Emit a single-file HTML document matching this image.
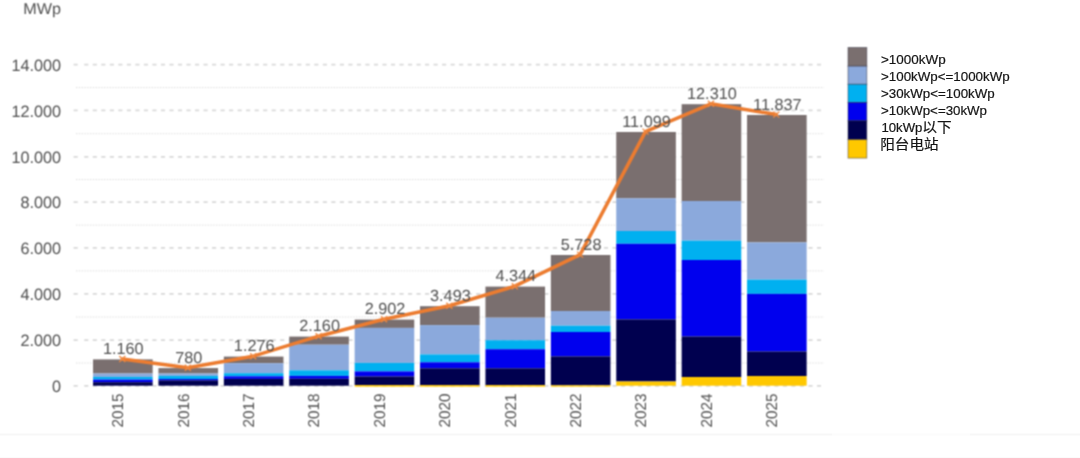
<!DOCTYPE html>
<html><head><meta charset="utf-8"><title>MWp</title>
<style>
html,body{margin:0;padding:0;background:#fff;}
body{width:1080px;height:458px;overflow:hidden;position:relative;font-family:"Liberation Sans","Noto Sans CJK SC",sans-serif;}
svg{position:absolute;left:0;top:0;display:block}
.ax{text-rendering:geometricPrecision;font-family:"Liberation Sans",sans-serif;font-size:16.4px;fill:#505050}
.xl{font-size:15.7px}
.dl{text-rendering:geometricPrecision;font-family:"Liberation Sans",sans-serif;font-size:16.1px;fill:#505050}
.lg{font-family:"Liberation Sans",sans-serif;font-size:13px;fill:#151515;stroke:#151515;stroke-width:0.2px}
.lgc{font-family:"Noto Sans CJK SC","Liberation Sans",sans-serif;font-size:13.7px;fill:#151515;stroke:#151515;stroke-width:0.2px}
#chart{filter:url(#soft)}
</style></head><body>
<svg width="1080" height="458" viewBox="0 0 1080 458">
<rect width="1080" height="458" fill="#ffffff"/>
<line x1="0" x2="832" y1="434.5" y2="434.5" stroke="#f7f7f7" stroke-width="2"/>
<line x1="832" x2="970" y1="434.5" y2="434.5" stroke="#fcfcfc" stroke-width="2"/>
<line x1="970" x2="1080" y1="434.5" y2="434.5" stroke="#f7f7f7" stroke-width="2"/>
<line x1="0" x2="1080" y1="457.5" y2="457.5" stroke="#fbfbfb" stroke-width="1"/>
<defs><filter id="soft" x="0" y="0" width="876" height="458" filterUnits="userSpaceOnUse" color-interpolation-filters="sRGB"><feConvolveMatrix order="3" kernelMatrix="0.0576 0.1248 0.0576 0.1248 0.2704 0.1248 0.0576 0.1248 0.0576" divisor="1" edgeMode="duplicate" preserveAlpha="false"/></filter></defs>
<g id="chart">
<rect x="0" y="0" width="876" height="432.5" fill="#ffffff"/>
<path d="M73.6 385.9h6.5M84.25 385.9H821.6" stroke="#d9d9d9" stroke-width="1.7" stroke-dasharray="4.1 4.42" fill="none"/>
<line x1="76" x2="824" y1="363.0" y2="363.0" stroke="#dcdcdc" stroke-width="1" stroke-dasharray="1.4 1.4"/>
<path d="M73.6 340.2h6.5M84.25 340.2H821.6" stroke="#d9d9d9" stroke-width="1.7" stroke-dasharray="4.1 4.42" fill="none"/>
<line x1="76" x2="824" y1="317.0" y2="317.0" stroke="#dcdcdc" stroke-width="1" stroke-dasharray="1.4 1.4"/>
<path d="M73.6 293.8h6.5M84.25 293.8H821.6" stroke="#d9d9d9" stroke-width="1.7" stroke-dasharray="4.1 4.42" fill="none"/>
<line x1="76" x2="824" y1="270.9" y2="270.9" stroke="#dcdcdc" stroke-width="1" stroke-dasharray="1.4 1.4"/>
<path d="M73.6 247.9h6.5M84.25 247.9H821.6" stroke="#d9d9d9" stroke-width="1.7" stroke-dasharray="4.1 4.42" fill="none"/>
<line x1="76" x2="824" y1="225.1" y2="225.1" stroke="#dcdcdc" stroke-width="1" stroke-dasharray="1.4 1.4"/>
<path d="M73.6 202.2h6.5M84.25 202.2H821.6" stroke="#d9d9d9" stroke-width="1.7" stroke-dasharray="4.1 4.42" fill="none"/>
<line x1="76" x2="824" y1="179.6" y2="179.6" stroke="#dcdcdc" stroke-width="1" stroke-dasharray="1.4 1.4"/>
<path d="M73.6 156.9h6.5M84.25 156.9H821.6" stroke="#d9d9d9" stroke-width="1.7" stroke-dasharray="4.1 4.42" fill="none"/>
<line x1="76" x2="824" y1="133.7" y2="133.7" stroke="#dcdcdc" stroke-width="1" stroke-dasharray="1.4 1.4"/>
<path d="M73.6 110.4h6.5M84.25 110.4H821.6" stroke="#d9d9d9" stroke-width="1.7" stroke-dasharray="4.1 4.42" fill="none"/>
<line x1="76" x2="824" y1="87.6" y2="87.6" stroke="#dcdcdc" stroke-width="1" stroke-dasharray="1.4 1.4"/>
<path d="M73.6 64.7h6.5M84.25 64.7H821.6" stroke="#d9d9d9" stroke-width="1.7" stroke-dasharray="4.1 4.42" fill="none"/>
<text transform="translate(61.1 391.9) scale(0.99 1)" text-anchor="end" class="ax">0</text>
<text transform="translate(61.1 346.2) scale(0.99 1)" text-anchor="end" class="ax">2.000</text>
<text transform="translate(61.1 299.9) scale(0.99 1)" text-anchor="end" class="ax">4.000</text>
<text transform="translate(61.1 254.0) scale(0.99 1)" text-anchor="end" class="ax">6.000</text>
<text transform="translate(61.1 208.2) scale(0.99 1)" text-anchor="end" class="ax">8.000</text>
<text transform="translate(61.1 163.0) scale(0.99 1)" text-anchor="end" class="ax">10.000</text>
<text transform="translate(61.1 116.5) scale(0.99 1)" text-anchor="end" class="ax">12.000</text>
<text transform="translate(61.1 70.8) scale(0.99 1)" text-anchor="end" class="ax">14.000</text>
<text transform="translate(23.2 14.3) scale(1.03 1)" class="ax" style="font-size:15.7px">MWp</text>
<rect x="93.05" y="359.4" width="59.6" height="14.1" fill="#7a6f6f"/>
<rect x="93.05" y="373.5" width="59.6" height="3.4" fill="#8ba9dc"/>
<rect x="93.05" y="376.9" width="59.6" height="2.7" fill="#00b0f0"/>
<rect x="93.05" y="379.6" width="59.6" height="2.6" fill="#0000ee"/>
<rect x="93.05" y="382.2" width="59.6" height="3.5" fill="#00004f"/>
<text transform="translate(123.2,410.4) rotate(-90) scale(0.975 1)" text-anchor="middle" class="ax xl">2015</text>
<rect x="158.45" y="368.1" width="59.6" height="5.4" fill="#7a6f6f"/>
<rect x="158.45" y="373.5" width="59.6" height="2.4" fill="#8ba9dc"/>
<rect x="158.45" y="375.9" width="59.6" height="3.1" fill="#00b0f0"/>
<rect x="158.45" y="379.0" width="59.6" height="1.4" fill="#0000ee"/>
<rect x="158.45" y="380.4" width="59.6" height="5.3" fill="#00004f"/>
<text transform="translate(188.7,410.4) rotate(-90) scale(0.975 1)" text-anchor="middle" class="ax xl">2016</text>
<rect x="223.85" y="356.6" width="59.6" height="6.6" fill="#7a6f6f"/>
<rect x="223.85" y="363.2" width="59.6" height="10.0" fill="#8ba9dc"/>
<rect x="223.85" y="373.2" width="59.6" height="3.1" fill="#00b0f0"/>
<rect x="223.85" y="376.3" width="59.6" height="2.6" fill="#0000ee"/>
<rect x="223.85" y="378.9" width="59.6" height="6.8" fill="#00004f"/>
<text transform="translate(254.1,410.4) rotate(-90) scale(0.975 1)" text-anchor="middle" class="ax xl">2017</text>
<rect x="289.25" y="336.6" width="59.6" height="8.1" fill="#7a6f6f"/>
<rect x="289.25" y="344.7" width="59.6" height="25.6" fill="#8ba9dc"/>
<rect x="289.25" y="370.3" width="59.6" height="5.6" fill="#00b0f0"/>
<rect x="289.25" y="375.9" width="59.6" height="2.9" fill="#0000ee"/>
<rect x="289.25" y="378.8" width="59.6" height="6.9" fill="#00004f"/>
<text transform="translate(319.4,410.4) rotate(-90) scale(0.975 1)" text-anchor="middle" class="ax xl">2018</text>
<rect x="354.65" y="319.6" width="59.6" height="8.3" fill="#7a6f6f"/>
<rect x="354.65" y="327.9" width="59.6" height="35.0" fill="#8ba9dc"/>
<rect x="354.65" y="362.9" width="59.6" height="8.5" fill="#00b0f0"/>
<rect x="354.65" y="371.4" width="59.6" height="5.1" fill="#0000ee"/>
<rect x="354.65" y="376.5" width="59.6" height="8.6" fill="#00004f"/>
<rect x="354.65" y="385.1" width="59.6" height="1.6" fill="#ffc800"/>
<text transform="translate(384.9,410.4) rotate(-90) scale(0.975 1)" text-anchor="middle" class="ax xl">2019</text>
<rect x="420.05" y="306.2" width="59.6" height="18.9" fill="#7a6f6f"/>
<rect x="420.05" y="325.1" width="59.6" height="29.3" fill="#8ba9dc"/>
<rect x="420.05" y="354.4" width="59.6" height="7.9" fill="#00b0f0"/>
<rect x="420.05" y="362.3" width="59.6" height="6.0" fill="#0000ee"/>
<rect x="420.05" y="368.3" width="59.6" height="16.8" fill="#00004f"/>
<rect x="420.05" y="385.1" width="59.6" height="1.6" fill="#ffc800"/>
<text transform="translate(450.2,410.4) rotate(-90) scale(0.975 1)" text-anchor="middle" class="ax xl">2020</text>
<rect x="485.45" y="286.6" width="59.6" height="31.1" fill="#7a6f6f"/>
<rect x="485.45" y="317.7" width="59.6" height="22.5" fill="#8ba9dc"/>
<rect x="485.45" y="340.2" width="59.6" height="9.0" fill="#00b0f0"/>
<rect x="485.45" y="349.2" width="59.6" height="19.1" fill="#0000ee"/>
<rect x="485.45" y="368.3" width="59.6" height="16.8" fill="#00004f"/>
<rect x="485.45" y="385.1" width="59.6" height="1.6" fill="#ffc800"/>
<text transform="translate(515.6,410.4) rotate(-90) scale(0.975 1)" text-anchor="middle" class="ax xl">2021</text>
<rect x="550.85" y="255.0" width="59.6" height="56.0" fill="#7a6f6f"/>
<rect x="550.85" y="311.0" width="59.6" height="14.7" fill="#8ba9dc"/>
<rect x="550.85" y="325.7" width="59.6" height="6.3" fill="#00b0f0"/>
<rect x="550.85" y="332.0" width="59.6" height="24.4" fill="#0000ee"/>
<rect x="550.85" y="356.4" width="59.6" height="28.9" fill="#00004f"/>
<rect x="550.85" y="385.3" width="59.6" height="1.4" fill="#ffc800"/>
<text transform="translate(581.0,410.4) rotate(-90) scale(0.975 1)" text-anchor="middle" class="ax xl">2022</text>
<rect x="616.25" y="132.0" width="59.6" height="66.3" fill="#7a6f6f"/>
<rect x="616.25" y="198.3" width="59.6" height="32.7" fill="#8ba9dc"/>
<rect x="616.25" y="231.0" width="59.6" height="12.8" fill="#00b0f0"/>
<rect x="616.25" y="243.8" width="59.6" height="75.6" fill="#0000ee"/>
<rect x="616.25" y="319.4" width="59.6" height="62.1" fill="#00004f"/>
<rect x="616.25" y="381.5" width="59.6" height="4.2" fill="#ffc800"/>
<text transform="translate(646.4,410.4) rotate(-90) scale(0.975 1)" text-anchor="middle" class="ax xl">2023</text>
<rect x="681.65" y="104.2" width="59.6" height="96.8" fill="#7a6f6f"/>
<rect x="681.65" y="201.0" width="59.6" height="39.6" fill="#8ba9dc"/>
<rect x="681.65" y="240.6" width="59.6" height="19.4" fill="#00b0f0"/>
<rect x="681.65" y="260.0" width="59.6" height="76.5" fill="#0000ee"/>
<rect x="681.65" y="336.5" width="59.6" height="40.5" fill="#00004f"/>
<rect x="681.65" y="377.0" width="59.6" height="8.7" fill="#ffc800"/>
<text transform="translate(711.8,410.4) rotate(-90) scale(0.975 1)" text-anchor="middle" class="ax xl">2024</text>
<rect x="747.05" y="115.0" width="59.6" height="127.4" fill="#7a6f6f"/>
<rect x="747.05" y="242.4" width="59.6" height="37.2" fill="#8ba9dc"/>
<rect x="747.05" y="279.6" width="59.6" height="14.3" fill="#00b0f0"/>
<rect x="747.05" y="293.9" width="59.6" height="57.6" fill="#0000ee"/>
<rect x="747.05" y="351.5" width="59.6" height="24.5" fill="#00004f"/>
<rect x="747.05" y="376.0" width="59.6" height="9.7" fill="#ffc800"/>
<text transform="translate(777.2,410.4) rotate(-90) scale(0.975 1)" text-anchor="middle" class="ax xl">2025</text>
<polyline points="122.3,359.0 187.8,367.7 253.2,356.2 318.6,336.2 384.0,319.2 449.4,305.8 514.8,286.2 580.1,254.6 645.5,131.6 710.9,103.8 776.3,114.6" fill="none" stroke="#ec7c30" stroke-width="3.5" stroke-linejoin="round" stroke-linecap="round"/>
<path d="M119.3 356.0L125.3 362.0M119.3 362.0L125.3 356.0" stroke="#f0883f" stroke-width="1.3" fill="none"/>
<text transform="translate(123.3 354.0) scale(1.01 1)" text-anchor="middle" class="dl">1.160</text>
<path d="M184.8 364.7L190.8 370.7M184.8 370.7L190.8 364.7" stroke="#f0883f" stroke-width="1.3" fill="none"/>
<text transform="translate(188.8 362.7) scale(1.01 1)" text-anchor="middle" class="dl">780</text>
<path d="M250.2 353.2L256.2 359.2M250.2 359.2L256.2 353.2" stroke="#f0883f" stroke-width="1.3" fill="none"/>
<text transform="translate(254.2 351.2) scale(1.01 1)" text-anchor="middle" class="dl">1.276</text>
<path d="M315.6 333.2L321.6 339.2M315.6 339.2L321.6 333.2" stroke="#f0883f" stroke-width="1.3" fill="none"/>
<text transform="translate(319.6 331.2) scale(1.01 1)" text-anchor="middle" class="dl">2.160</text>
<path d="M381.0 316.2L387.0 322.2M381.0 322.2L387.0 316.2" stroke="#f0883f" stroke-width="1.3" fill="none"/>
<text transform="translate(385.0 314.2) scale(1.01 1)" text-anchor="middle" class="dl">2.902</text>
<path d="M446.4 302.8L452.4 308.8M446.4 308.8L452.4 302.8" stroke="#f0883f" stroke-width="1.3" fill="none"/>
<text transform="translate(450.4 300.8) scale(1.01 1)" text-anchor="middle" class="dl">3.493</text>
<path d="M511.8 283.2L517.8 289.2M511.8 289.2L517.8 283.2" stroke="#f0883f" stroke-width="1.3" fill="none"/>
<text transform="translate(515.8 281.2) scale(1.01 1)" text-anchor="middle" class="dl">4.344</text>
<path d="M577.1 251.6L583.1 257.6M577.1 257.6L583.1 251.6" stroke="#f0883f" stroke-width="1.3" fill="none"/>
<text transform="translate(581.1 249.6) scale(1.01 1)" text-anchor="middle" class="dl">5.728</text>
<path d="M642.5 128.6L648.5 134.6M642.5 134.6L648.5 128.6" stroke="#f0883f" stroke-width="1.3" fill="none"/>
<text transform="translate(646.5 126.6) scale(1.01 1)" text-anchor="middle" class="dl">11.099</text>
<path d="M707.9 100.8L713.9 106.8M707.9 106.8L713.9 100.8" stroke="#f0883f" stroke-width="1.3" fill="none"/>
<text transform="translate(711.9 98.8) scale(1.01 1)" text-anchor="middle" class="dl">12.310</text>
<path d="M773.3 111.6L779.3 117.6M773.3 117.6L779.3 111.6" stroke="#f0883f" stroke-width="1.3" fill="none"/>
<text transform="translate(777.3 109.6) scale(1.01 1)" text-anchor="middle" class="dl">11.837</text>
<rect x="848" y="47.5" width="18.8" height="18.7" fill="#7a6f6f" stroke="rgba(40,40,60,0.5)" stroke-width="0.9"/>
<rect x="848" y="66.2" width="18.8" height="18.1" fill="#8ba9dc" stroke="rgba(40,40,60,0.5)" stroke-width="0.9"/>
<rect x="848" y="84.3" width="18.8" height="18.2" fill="#00b0f0" stroke="rgba(40,40,60,0.5)" stroke-width="0.9"/>
<rect x="848" y="102.5" width="18.8" height="18.3" fill="#0000ee" stroke="rgba(40,40,60,0.5)" stroke-width="0.9"/>
<rect x="848" y="120.8" width="18.8" height="18.8" fill="#00004f" stroke="rgba(40,40,60,0.5)" stroke-width="0.9"/>
<rect x="848" y="139.6" width="18.8" height="18.5" fill="#ffc800" stroke="rgba(40,40,60,0.5)" stroke-width="0.9"/>
</g>
<g id="legend">
<text x="881" y="64.0" class="lg" textLength="64.7" lengthAdjust="spacingAndGlyphs">&gt;1000kWp</text>
<text x="881" y="81.0" class="lg" textLength="128.7" lengthAdjust="spacingAndGlyphs">&gt;100kWp&lt;=1000kWp</text>
<text x="881" y="98.0" class="lg" textLength="113.7" lengthAdjust="spacingAndGlyphs">&gt;30kWp&lt;=100kWp</text>
<text x="881" y="115.0" class="lg" textLength="106.0" lengthAdjust="spacingAndGlyphs">&gt;10kWp&lt;=30kWp</text>
<text x="881.4" y="132" class="lg" textLength="41" lengthAdjust="spacingAndGlyphs">10kWp</text>
<text x="922.2" y="132" class="lgc" textLength="29.4" lengthAdjust="spacingAndGlyphs">以下</text>
<text x="880.3" y="149.4" class="lgc" textLength="58.2" lengthAdjust="spacingAndGlyphs">阳台电站</text>
</g>
</svg>
</body></html>
